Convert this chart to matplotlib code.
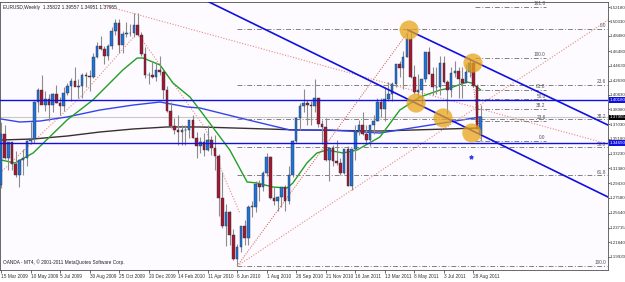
import matplotlib
matplotlib.use("Agg")
import matplotlib.pyplot as plt

plt.rcParams["font.family"] = ["Liberation Sans", "DejaVu Sans"]

# weekly EURUSD candles, week index 0 = 15 Mar 2009
opens = [1.2925, 1.3580, 1.3275, 1.3480, 1.3195, 1.3045, 1.3240, 1.3275, 1.3490, 1.3520,
         1.3995, 1.4150, 1.3960, 1.4030, 1.3960, 1.4100, 1.3975, 1.3940, 1.4110, 1.4200,
         1.4260, 1.4185, 1.4195, 1.4335, 1.4330, 1.4320, 1.4570, 1.4715, 1.4680, 1.4580,
         1.4720, 1.4905, 1.5010, 1.4725, 1.4870, 1.4880, 1.4880, 1.4990, 1.4860, 1.4615,
         1.4340, 1.4340, 1.4320, 1.4410, 1.4380, 1.4150, 1.3870, 1.3680, 1.3630, 1.3610,
         1.3630, 1.3630, 1.3760, 1.3530, 1.3420, 1.3480, 1.3370, 1.3500, 1.3400, 1.3290,
         1.2750, 1.2390, 1.2570, 1.2270, 1.1965, 1.2115, 1.2390, 1.2240, 1.2640, 1.2640,
         1.2935, 1.2900, 1.3080, 1.3280, 1.2750, 1.2710, 1.2760, 1.2890, 1.2710, 1.3050,
         1.3490, 1.3790, 1.3935, 1.3985, 1.3960, 1.3945, 1.4040, 1.3705, 1.3670, 1.3240,
         1.3400, 1.3235, 1.3200, 1.3080, 1.3380, 1.2910, 1.3380, 1.3615, 1.3700, 1.3580,
         1.3500, 1.3695, 1.3750, 1.3990, 1.3905, 1.4030, 1.4090, 1.4230, 1.4480, 1.4430,
         1.4570, 1.4810, 1.4310, 1.4120, 1.4150, 1.4290, 1.4640, 1.4350, 1.4180, 1.4190,
         1.4500, 1.4250, 1.4150, 1.4370, 1.4390, 1.4290, 1.4240, 1.4380, 1.4500, 1.4200,
         1.35822]
highs = [1.3738, 1.3700, 1.3480, 1.3480, 1.3365, 1.3260, 1.3390, 1.3500, 1.3735, 1.4000,
         1.4170, 1.4340, 1.4130, 1.4100, 1.4110, 1.4210, 1.4060, 1.4190, 1.4240, 1.4300,
         1.4445, 1.4290, 1.4370, 1.4385, 1.4400, 1.4625, 1.4765, 1.4845, 1.4720, 1.4740,
         1.4960, 1.5060, 1.5060, 1.4910, 1.5020, 1.5000, 1.5145, 1.5145, 1.4890, 1.4700,
         1.4380, 1.4510, 1.4510, 1.4580, 1.4400, 1.4200, 1.3995, 1.3790, 1.3820, 1.3690,
         1.3690, 1.3760, 1.3820, 1.3600, 1.3545, 1.3595, 1.3690, 1.3550, 1.3560, 1.3320,
         1.3090, 1.2675, 1.2590, 1.2350, 1.2160, 1.2390, 1.2470, 1.2660, 1.2720, 1.2970,
         1.2985, 1.3100, 1.3335, 1.3290, 1.2900, 1.2780, 1.2890, 1.2920, 1.3160, 1.3500,
         1.3800, 1.3980, 1.4160, 1.4020, 1.4000, 1.4285, 1.4045, 1.3755, 1.3785, 1.3410,
         1.3440, 1.3500, 1.3275, 1.3385, 1.3430, 1.3390, 1.3690, 1.3760, 1.3860, 1.3700,
         1.3700, 1.3830, 1.4040, 1.4040, 1.4180, 1.4250, 1.4250, 1.4460, 1.4520, 1.4650,
         1.4880, 1.4940, 1.4470, 1.4350, 1.4190, 1.4640, 1.4700, 1.4450, 1.4450, 1.4580,
         1.4580, 1.4280, 1.4440, 1.4520, 1.4450, 1.4440, 1.4480, 1.4545, 1.4550, 1.4220,
         1.39557]
lows = [1.2885, 1.3255, 1.3115, 1.3110, 1.3020, 1.2890, 1.3050, 1.3170, 1.3450, 1.3460,
        1.3860, 1.3980, 1.3880, 1.3750, 1.3860, 1.3975, 1.3830, 1.3880, 1.4080, 1.4010,
        1.4250, 1.4045, 1.4050, 1.4180, 1.4130, 1.4300, 1.4565, 1.4660, 1.4480, 1.4535,
        1.4680, 1.4860, 1.4630, 1.4620, 1.4830, 1.4840, 1.4830, 1.4850, 1.4580, 1.4300,
        1.4220, 1.4300, 1.4260, 1.4340, 1.4030, 1.3860, 1.3660, 1.3580, 1.3440, 1.3440,
        1.3435, 1.3530, 1.3530, 1.3265, 1.3330, 1.3300, 1.3360, 1.3310, 1.3115, 1.2520,
        1.2360, 1.2140, 1.2150, 1.1955, 1.1875, 1.2055, 1.2150, 1.2150, 1.2510, 1.2570,
        1.2710, 1.2850, 1.3035, 1.2735, 1.2660, 1.2590, 1.2640, 1.2590, 1.2680, 1.3020,
        1.3460, 1.3630, 1.3860, 1.3700, 1.3700, 1.3860, 1.3665, 1.3450, 1.3225, 1.2970,
        1.3170, 1.3175, 1.3050, 1.3060, 1.2905, 1.2860, 1.3240, 1.3570, 1.3560, 1.3450,
        1.3430, 1.3580, 1.3750, 1.3800, 1.3750, 1.4010, 1.4000, 1.4180, 1.4320, 1.4160,
        1.4570, 1.4300, 1.4100, 1.4060, 1.3970, 1.4250, 1.4350, 1.4080, 1.4100, 1.4080,
        1.4240, 1.3840, 1.4060, 1.4320, 1.4050, 1.4050, 1.4260, 1.4310, 1.4190, 1.3650,
        1.34951]
closes = [1.3580, 1.3275, 1.3480, 1.3195, 1.3045, 1.3240, 1.3275, 1.3490, 1.3520, 1.3995,
          1.4150, 1.3960, 1.4030, 1.3960, 1.4100, 1.3975, 1.3940, 1.4110, 1.4200, 1.4260,
          1.4185, 1.4195, 1.4335, 1.4330, 1.4320, 1.4570, 1.4715, 1.4680, 1.4580, 1.4720,
          1.4905, 1.5010, 1.4725, 1.4870, 1.4880, 1.4880, 1.4990, 1.4860, 1.4615, 1.4340,
          1.4340, 1.4320, 1.4410, 1.4380, 1.4150, 1.3870, 1.3680, 1.3630, 1.3610, 1.3630,
          1.3630, 1.3760, 1.3530, 1.3420, 1.3480, 1.3370, 1.3500, 1.3400, 1.3290, 1.2750,
          1.2390, 1.2570, 1.2270, 1.1965, 1.2115, 1.2390, 1.2240, 1.2640, 1.2640, 1.2935,
          1.2900, 1.3080, 1.3280, 1.2750, 1.2710, 1.2760, 1.2890, 1.2710, 1.3050, 1.3490,
          1.3790, 1.3935, 1.3985, 1.3960, 1.3945, 1.4040, 1.3705, 1.3670, 1.3240, 1.3400,
          1.3235, 1.3200, 1.3080, 1.3380, 1.2910, 1.3380, 1.3615, 1.3700, 1.3580, 1.3500,
          1.3695, 1.3750, 1.3990, 1.3905, 1.4030, 1.4090, 1.4230, 1.4480, 1.4430, 1.4570,
          1.4810, 1.4310, 1.4120, 1.4150, 1.4290, 1.4640, 1.4350, 1.4180, 1.4190, 1.4500,
          1.4250, 1.4150, 1.4370, 1.4390, 1.4290, 1.4240, 1.4380, 1.4500, 1.4200, 1.3650,
          1.37955]

date_labels = ["15 Mar 2009", "10 May 2009", "5 Jul 2009", "30 Aug 2009", "25 Oct 2009",
               "20 Dec 2009", "14 Feb 2010", "11 Apr 2010", "6 Jun 2010", "1 Aug 2010",
               "26 Sep 2010", "21 Nov 2010", "16 Jan 2011", "13 Mar 2011", "8 May 2011",
               "3 Jul 2011", "28 Aug 2011"]
date_ticks = list(range(0, 129, 8))

price_ticks = [1.52180, 1.50330, 1.48480, 1.46480, 1.44630, 1.42690, 1.40830, 1.38980,
               1.37030, 1.35180, 1.33230, 1.31380, 1.29430, 1.27580, 1.25640, 1.23715,
               1.21840, 1.19920]

# moving averages (week index, price)
ma_green_x = [0, 3.8, 8.7, 17.9, 24.9, 29.5, 33, 36.9, 38.5, 43.1, 46.6, 51.2, 53.9, 62,
              66.7, 69.4, 73.7, 77.5, 79.1, 82.9, 85.6, 88.3, 92.7, 96.5, 102.7, 108.1,
              113.6, 119, 121.7, 126.3, 127.6, 130]
ma_green_y = [1.3244, 1.3205, 1.3334, 1.3760, 1.4018, 1.4237, 1.4405, 1.4560, 1.4560,
              1.4470, 1.4237, 1.4057, 1.3889, 1.3373, 1.2960, 1.2947, 1.2895, 1.2882,
              1.2947, 1.3205, 1.3334, 1.3373, 1.3334, 1.3373, 1.3541, 1.3889, 1.4057,
              1.4147, 1.4173, 1.4250, 1.4237, 1.4147]
ma_blue_x = [0, 5.1, 10.6, 17.9, 26.8, 35.8, 43.1, 50.4, 53.9, 64.8, 78.3, 89.2, 102.7, 116.3, 130]
ma_blue_y = [1.3773, 1.3734, 1.3747, 1.3799, 1.3889, 1.3953, 1.3992, 1.3928, 1.3915,
             1.3786, 1.3631, 1.3631, 1.3592, 1.3695, 1.3799]
ma_black_x = [0, 8.7, 17.9, 26.8, 35.8, 45, 53.9, 81, 102.7, 130]
ma_black_y = [1.3502, 1.3515, 1.3553, 1.3605, 1.3644, 1.3670, 1.3670, 1.3631, 1.3618, 1.3657]

# dotted curve hugging the price (rise into Nov 2009, fall into Jun 2010)
trail_x = [-0.27, 21.4, 36.9, 46.6, 55.3, 60.7, 64.8]
trail_y = [1.3076, 1.4051, 1.4882, 1.4237, 1.3657, 1.3002, 1.2551]

# horizontal levels and channel lines
hlines_blue = [1.40180, 1.34650]
bid = 1.37955
channel_upper = ([110.3, 164.5], [1.4921, 1.3695])
channel_lower = ([55.3, 164.5], [1.5308, 1.2766])

# fibonacci: swing low (Jun 2010) -> swing high (May 2011)
fib_low, fib_high = 1.1875, 1.4940
fib_x = (64, 111)
fib_levels = [0.0, 23.6, 38.2, 50.0, 61.8, 100.0]
# second fibonacci: Aug 2011 high -> Sep 2011 low
fib2_low, fib2_high = 1.34951, 1.4560
fib2_x = (127, 130)
fib2_end = 147.6
fib2_levels = [0.0, 23.6, 38.2, 50.0, 61.8, 100.0, 161.8]

# dotted trend lines (x0, y0, x1, y1)
dotted_lines = [(27.6, 1.5244, 164.5, 1.3450),
                (64, 1.1875, 164.5, 1.5050)]

circle_x = [110.6, 127.9, 112.5, 119.8, 127.6]
circle_y = [1.4921, 1.4495, 1.3979, 1.3786, 1.3592]

fig = plt.figure(figsize=(6.25, 2.82), dpi=100)
fig.patch.set_facecolor("white")
ax = fig.add_axes([0 / 625, 12 / 282, 608 / 625, 268 / 282])
ax.set_facecolor("#FDFBFF")

dot_kw = dict(color="#E88A7A", lw=0.8, ls=(0, (1, 1.5)), zorder=1)
for x0, y0, x1, y1 in dotted_lines:
    ax.plot([x0, x1], [y0, y1], **dot_kw)
ax.plot(trail_x, trail_y, **dot_kw)

# moving averages
ax.plot(ma_black_x, ma_black_y, color="#3A3030", lw=1.0, zorder=2)
ax.plot(ma_blue_x, ma_blue_y, color="#3344EE", lw=1.0, zorder=2)
ax.plot(ma_green_x, ma_green_y, color="#22A022", lw=1.0, zorder=2)

# candles
for i in range(len(opens)):
    o, h, l, c = opens[i], highs[i], lows[i], closes[i]
    col = "#1F74D8" if c >= o else "#A3182F"
    ax.vlines(i, l, h, color="#8C8C8C", lw=0.8, zorder=3)
    ax.bar(i, max(abs(c - o), 0.0005), bottom=min(o, c),
           width=0.7, color=col, edgecolor="#303040", linewidth=0.3, zorder=4)

ax.axhline(bid, color="#C8C8C8", lw=0.8, zorder=1)
for lv in hlines_blue:
    ax.axhline(lv, color="#1010E0", lw=1.0, zorder=5)
ax.plot(*channel_upper, color="#1010E0", lw=1.2, zorder=5)
ax.plot(*channel_lower, color="#1010E0", lw=1.2, zorder=5)

fib_kw = dict(color="#808080", lw=0.7, ls=(0, (5, 2, 1, 2)), zorder=2)
lab_kw = dict(fontsize=3.4, color="#505050", ha="right", va="bottom")
# fib retracement levels
ax.plot(fib_x, [fib_low, fib_high], color="#D05040", lw=0.7, ls=(0, (1, 1.5)), zorder=2)
for lv in fib_levels:
    p = fib_high - (fib_high - fib_low) * lv / 100
    ax.plot([fib_x[0], 164.2], [p, p], **fib_kw)
    ax.text(163.9, p + 0.0008, f"{lv:.1f}", **lab_kw)
ax.plot(fib2_x, [fib2_high, fib2_low], color="#D05040", lw=0.7, ls=(0, (1, 1.5)), zorder=2)
for lv in fib2_levels:
    p = fib2_low + (fib2_high - fib2_low) * lv / 100
    ax.plot([fib2_x[0] + 1.4, fib2_end], [p, p], **fib_kw)
    ax.text(fib2_end, p + 0.0008, f"{lv:.1f}", **lab_kw)

ax.scatter(circle_x, circle_y, s=190, color="#E8A317", alpha=0.75, edgecolors="none", zorder=6)
ax.scatter([127.4], [1.3283], s=6, color="#3344EE", marker="*", zorder=6)

ax.set_xlim(-0.271, 164.5)
ax.set_ylim(1.1824, 1.5283)

ax.set_xticks(date_ticks)
ax.set_xticklabels(date_labels, fontsize=3.4, ha="left")
ax.yaxis.tick_right()
ax.set_yticks(price_ticks)
ax.set_yticklabels([f"{v:.5f}" for v in price_ticks], fontsize=3.2)
ax.tick_params(axis="x", length=2, width=0.5, pad=1, colors="#303030")
ax.tick_params(axis="y", length=1.2, width=0.5, pad=0.3, colors="#303030")
for s in ax.spines.values():
    s.set_linewidth(0.6)
    s.set_color("#505050")

# price tags on the right axis
tag_kw = dict(transform=ax.get_yaxis_transform(), fontsize=3.2, ha="left", va="center", color="white")
for lv in hlines_blue:
    ax.text(1.002, lv, f"{lv:.5f}", bbox=dict(boxstyle="square,pad=0.15", fc="#1010E0", ec="none"),
            clip_on=False, **tag_kw)
ax.text(1.002, bid, f"{bid:.5f}", bbox=dict(boxstyle="square,pad=0.15", fc="black", ec="none"),
        clip_on=False, **tag_kw)

ax.text(0.005, 0.988, "EURUSD,Weekly  1.35822 1.39557 1.34951 1.37955", transform=ax.transAxes,
        fontsize=3.4, va="top", ha="left", color="#202020")
ax.text(0.005, 0.02, "OANDA - MT4, \u00a9 2001-2011 MetaQuotes Software Corp.", transform=ax.transAxes,
        fontsize=3.4, va="bottom", ha="left", color="#202020")

fig.savefig("out.png", dpi=100)
